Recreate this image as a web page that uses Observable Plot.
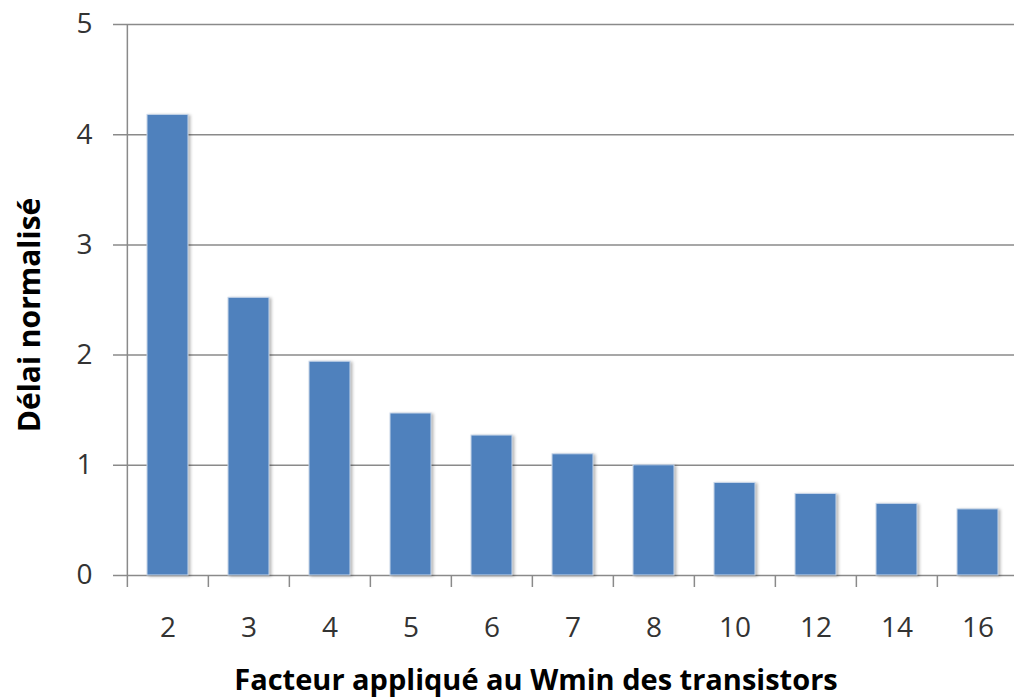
<!DOCTYPE html>
<html>
<head>
<meta charset="utf-8">
<script src="https://cdn.jsdelivr.net/npm/d3@7"></script>
<script src="https://cdn.jsdelivr.net/npm/@observablehq/plot@0.6"></script>
<style>
  html, body { margin: 0; padding: 0; background: #fff; }
  #chart svg { display: block; }
  g[aria-label="bar"] { filter: drop-shadow(2px 1px 1.5px rgba(0,0,0,0.28)); }
</style>
</head>
<body>
<div id="chart"></div>
<script>
const categories = ["2", "3", "4", "5", "6", "7", "8", "10", "12", "14", "16"];
const values = [4.18, 2.52, 1.94, 1.47, 1.27, 1.10, 1.00, 0.84, 0.74, 0.65, 0.60];
const yTicks = [0, 1, 2, 3, 4, 5];
const xTitle = "Facteur appliqué au Wmin des transistors";
const yTitle = "Délai normalisé";

const data = categories.map((c, i) => ({cat: c, val: values[i]}));

const W = 1014, H = 699;
const mL = 125, mR = 0, mT = 24, mB = 124;
const xRange = [mL, 1019];
const step = (xRange[1] - xRange[0]) / categories.length;
const font = "'Open Sans', 'Noto Sans', sans-serif";
const grid = "#8a8a8a";

const chart = Plot.plot({
  width: W,
  height: H,
  marginLeft: mL,
  marginRight: mR,
  marginTop: mT,
  marginBottom: mB,
  style: {fontFamily: font, background: "#fff", overflow: "visible"},
  x: {domain: categories, range: xRange, paddingInner: 0.5, paddingOuter: 0.25, align: 0.5},
  y: {domain: [0, 5]},
  marks: [
    Plot.ruleY(yTicks, {y: d => d, stroke: grid, strokeWidth: 1.5, insetLeft: -12}),
    Plot.ruleX([categories[0]], {x: d => d, dx: -step / 2, y1: 0, y2: 5, stroke: grid, strokeWidth: 1.5}),
    Plot.ruleX(categories, {x: d => d, dx: -step / 2, y1: 0, y2: 0, insetBottom: -12, stroke: grid, strokeWidth: 1.5}),
    Plot.barY(data, {x: "cat", y: "val", fill: "#4f81bd", stroke: "#c9d7ea", strokeWidth: 1}),
    Plot.axisY({ticks: yTicks, tickFormat: d => String(d), tickSize: 0, tickPadding: 33, fontSize: 28, fill: "#333", label: null}),
    Plot.axisX({tickSize: 0, tickPadding: 42, fontSize: 28, fill: "#333", label: null}),
    Plot.text([xTitle], {frameAnchor: "bottom", textAnchor: "middle", dx: -34, dy: 114, fontSize: 29, fontWeight: "bold", fill: "#000", fontFamily: font}),
    Plot.text([yTitle], {frameAnchor: "left", textAnchor: "middle", dx: -95, dy: 15, rotate: -90, fontSize: 30, fontWeight: "bold", fill: "#000", fontFamily: font})
  ]
});
document.getElementById("chart").appendChild(chart);
</script>
</body>
</html>
